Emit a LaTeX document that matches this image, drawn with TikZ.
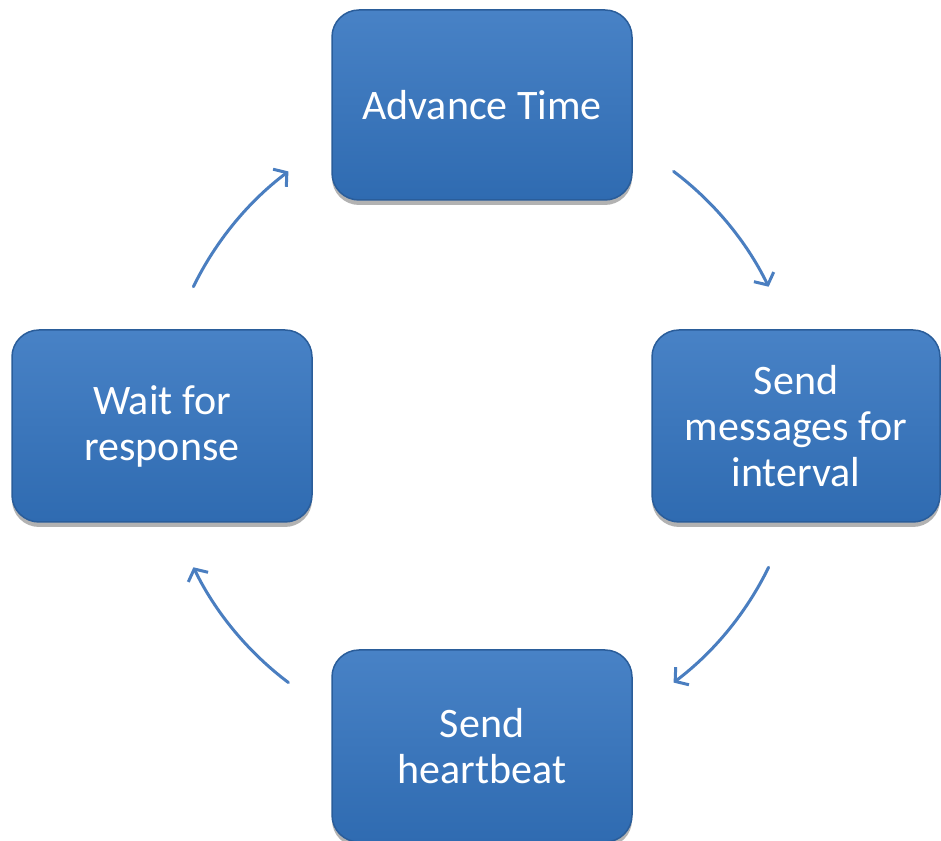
\documentclass[tikz,border=0pt]{standalone}
\usepackage{fontspec}
\setmainfont{Carlito}
\usetikzlibrary{arrows.meta,shadows}
\definecolor{boxtop}{HTML}{4882C6}
\definecolor{boxbot}{HTML}{2F6BB1}
\definecolor{boxline}{HTML}{2A5D9A}
\definecolor{arrowc}{HTML}{4A7EC0}
\tikzset{
  stepbox/.style={draw=boxline, line width=1.5pt, rounded corners=27pt,
    top color=boxtop, bottom color=boxbot, text=white, align=center,
    font=\fontsize{42}{46}\selectfont, inner sep=0pt,
    drop shadow={shadow xshift=0pt, shadow yshift=-5pt, fill=black, opacity=0.3}},
  cyc/.style={draw=arrowc, line width=3pt, line cap=round,
    -{Straight Barb[length=9pt, width=22pt, line width=3pt]}}
}
\begin{document}
\begin{tikzpicture}[x=1pt, y=1pt]
\useasboundingbox (0,0) rectangle (941,840);
\clip (0,0) rectangle (941,840);
\node[stepbox, minimum width=300pt, minimum height=190pt] (top) at (482,735) {Advance Time};
\node[stepbox, minimum width=300pt, minimum height=192pt] (left) at (162,414) {Wait for\\response};
\node[stepbox, minimum width=288pt, minimum height=192pt] (right) at (796,414) {Send\\messages for\\interval};
\node[stepbox, minimum width=300pt, minimum height=192pt] (bottom) at (482,94) {Send\\heartbeat};
\coordinate (c) at (481,413);
\draw[cyc] (c) ++(53:320) coordinate (a1) arc[start angle=53, end angle=26, radius=320] coordinate (b1);
\draw[cyc] (c) ++(-26:320) coordinate (a2) arc[start angle=-26, end angle=-53, radius=320] coordinate (b2);
\draw[cyc] (c) ++(233:320) coordinate (a3) arc[start angle=233, end angle=206, radius=320] coordinate (b3);
\draw[cyc] (c) ++(154:320) coordinate (a4) arc[start angle=154, end angle=127, radius=320] coordinate (b4);
\end{tikzpicture}
\end{document}
